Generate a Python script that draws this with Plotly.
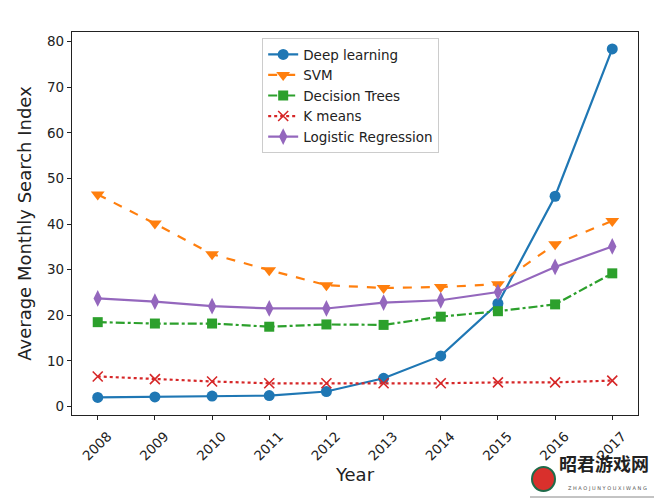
import plotly.graph_objects as go

years = [2008, 2009, 2010, 2011, 2012, 2013, 2014, 2015, 2016, 2017]
deep_learning = [2.0, 2.1, 2.3, 2.4, 3.3, 6.2, 11.1, 22.6, 46.1, 78.4]
svm = [46.5, 40.1, 33.4, 29.9, 26.6, 26.0, 26.2, 26.8, 35.6, 40.7]
decision_trees = [18.5, 18.2, 18.2, 17.5, 18.0, 17.9, 19.7, 20.9, 22.4, 29.2]
k_means = [6.6, 6.0, 5.5, 5.1, 5.1, 5.1, 5.1, 5.3, 5.3, 5.7]
logistic_regression = [23.7, 23.0, 22.0, 21.5, 21.5, 22.8, 23.3, 25.1, 30.6, 35.1]
y_ticks = [0, 10, 20, 30, 40, 50, 60, 70, 80]

series = [
    ("Deep learning", deep_learning, "#1f77b4", "solid", "circle", 11),
    ("SVM", svm, "#ff7f0e", "dash", "triangle-down", 12),
    ("Decision Trees", decision_trees, "#2ca02c", "dashdot", "square", 10),
    ("K means", k_means, "#d62728", "dot", "x-thin-open", 10),
    ("Logistic Regression", logistic_regression, "#9467bd", "solid", "diamond-tall", 12),
]

fig = go.Figure()
for name, vals, color, dash, sym, size in series:
    marker = dict(symbol=sym, size=size, color=color)
    if sym == "x-thin-open":
        marker["line"] = dict(color=color, width=1.6)
    fig.add_trace(go.Scatter(
        x=years, y=vals, name=name, mode="lines+markers",
        line=dict(color=color, width=2.2, dash=dash),
        marker=marker,
    ))

font_family = "DejaVu Sans"
# the page body has an 8px margin, so the figure is shrunk by that much
fig.update_layout(
    width=654, height=492,
    margin=dict(l=64, r=24, t=24, b=85, autoexpand=False),
    paper_bgcolor="white", plot_bgcolor="white",
    font=dict(family=font_family, color="#222", size=13),
    showlegend=True,
    legend=dict(x=0.336, y=0.984, xanchor="left", yanchor="top",
                bgcolor="rgba(255,255,255,0.9)", bordercolor="#cccccc", borderwidth=1,
                font=dict(size=13.5, color="#222"), tracegroupgap=0),
    xaxis=dict(
        range=[2008 - 0.45, 2017 + 0.45], tickmode="array", tickvals=years,
        ticktext=[str(y) for y in years], tickangle=-45, automargin=False,
        ticklabelshift=10, ticklabelstandoff=3,
        showline=True, linecolor="#222", linewidth=1.2, mirror=True,
        ticks="outside", ticklen=4, tickcolor="#222", showgrid=False, zeroline=False,
        title=dict(text="Year", font=dict(size=18, color="#222"), standoff=4),
        tickfont=dict(size=13.5, color="#222"),
    ),
    yaxis=dict(
        range=[-1.85, 82.1], tickmode="array", tickvals=y_ticks, automargin=False,
        showline=True, linecolor="#222", linewidth=1.2, mirror=True,
        ticks="outside", ticklen=4, tickcolor="#222", showgrid=False, zeroline=False,
        title=dict(text="Average Monthly Search Index", font=dict(size=18, color="#222"), standoff=10),
        tickfont=dict(size=13.5, color="#222"),
    ),
)

def px(x):
    return (x - 72) / 566

def py(y):
    return (415 - y) / 383

# watermark
fig.add_shape(type="line", xref="paper", yref="paper",
              x0=px(530), x1=px(657), y0=py(497), y1=py(497),
              line=dict(color="#888", width=1))
fig.add_shape(type="line", xref="paper", yref="paper",
              x0=px(657), x1=px(657), y0=py(462), y1=py(498),
              line=dict(color="#111", width=3))
fig.add_shape(type="circle", xref="paper", yref="paper",
              x0=px(532), x1=px(555), y0=py(491), y1=py(467),
              fillcolor="#d9302c", line=dict(color="#1f6b4a", width=2))
fig.add_annotation(xref="paper", yref="paper", x=px(651), y=py(478),
                   xanchor="right", text="<b>昭君游戏网</b>", showarrow=False,
                   font=dict(family="Noto Sans CJK SC", size=18, color="#222"))
fig.add_annotation(xref="paper", yref="paper", x=px(649), y=py(493),
                   xanchor="right", text="Z H A O J U N Y O U X I W A N G", showarrow=False,
                   font=dict(family=font_family, size=5, color="#555"))

fig.write_html("out.html")
